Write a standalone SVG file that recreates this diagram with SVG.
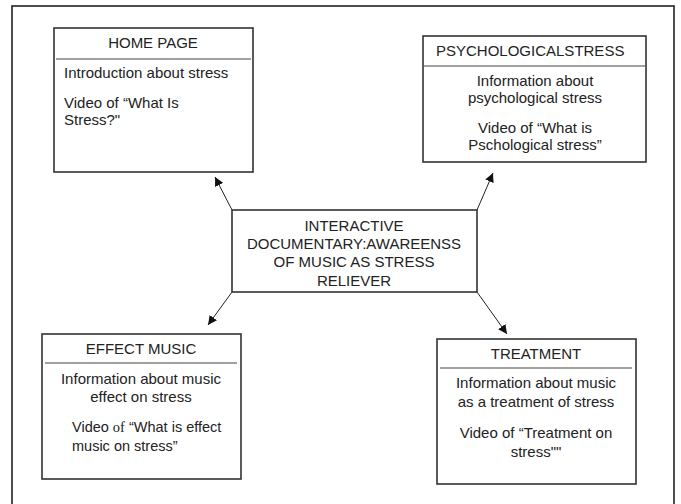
<svg xmlns="http://www.w3.org/2000/svg" width="681" height="504" viewBox="0 0 681 504">
<defs>
<style>
.box{fill:#fff;stroke:#333;stroke-width:1.6}
.div{stroke:#444;stroke-width:1}
.t{font-family:"Liberation Sans",Arial,sans-serif;font-size:15px;fill:#222}
.c{text-anchor:middle}
.con{stroke:#222;stroke-width:1;fill:none}
</style>
<marker id="ah" viewBox="0 0 10 10" refX="10" refY="5" markerWidth="9" markerHeight="9" markerUnits="userSpaceOnUse" orient="auto">
<path d="M0,0 L10,5 L0,10 z" fill="#111"/>
</marker>
</defs>
<rect width="681" height="504" fill="#fff"/>
<rect x="12" y="6" width="662" height="510" fill="none" stroke="#222" stroke-width="1.6"/>

<g id="connectors">
<line class="con" x1="232" y1="210" x2="215" y2="177" marker-end="url(#ah)"/>
<line class="con" x1="477" y1="210" x2="493" y2="173" marker-end="url(#ah)"/>
<line class="con" x1="232" y1="292" x2="208" y2="325" marker-end="url(#ah)"/>
<line class="con" x1="477" y1="292" x2="507" y2="334" marker-end="url(#ah)"/>
</g>

<g id="home">
<rect class="box" x="54" y="28" width="199" height="144"/>
<line class="div" x1="56" y1="59" x2="251" y2="59"/>
<text class="t c" x="153" y="48">HOME PAGE</text>
<text class="t" x="64" y="78">Introduction about stress</text>
<text class="t" x="64" y="108">Video of “What Is</text>
<text class="t" x="64" y="125">Stress?"</text>
</g>

<g id="psych">
<rect class="box" x="423" y="36" width="223" height="126"/>
<line class="div" x1="424" y1="66" x2="645" y2="66"/>
<text class="t" x="436" y="56">PSYCHOLOGICALSTRESS</text>
<text class="t c" x="535" y="86">Information about</text>
<text class="t c" x="535" y="103">psychological stress</text>
<text class="t c" x="535" y="133">Video of “What is</text>
<text class="t c" x="535" y="150">Pschological stress”</text>
</g>

<g id="center">
<rect class="box" x="232" y="210" width="245" height="82"/>
<text class="t c" x="354" y="231">INTERACTIVE</text>
<text class="t c" x="354" y="249">DOCUMENTARY:AWAREENSS</text>
<text class="t c" x="354" y="267">OF MUSIC AS STRESS</text>
<text class="t c" x="354" y="286">RELIEVER</text>
</g>

<g id="effect">
<rect class="box" x="42" y="334" width="199" height="145"/>
<line class="div" x1="45" y1="363" x2="237" y2="363"/>
<text class="t c" x="141" y="354">EFFECT MUSIC</text>
<text class="t c" x="141" y="384">Information about music</text>
<text class="t c" x="141" y="402">effect on stress</text>
<text class="t" x="72" y="432" style="font-size:14.5px">Video <tspan style="font-family:'Liberation Serif',serif">of</tspan> “What is effect</text>
<text class="t" x="72" y="451" style="font-size:14.5px">music on stress”</text>
</g>

<g id="treatment">
<rect class="box" x="437" y="339" width="199" height="145"/>
<line class="div" x1="440" y1="368" x2="632" y2="368"/>
<text class="t c" x="536" y="359">TREATMENT</text>
<text class="t c" x="536" y="388">Information about music</text>
<text class="t c" x="536" y="407">as a treatment of stress</text>
<text class="t c" x="536" y="438">Video of “Treatment on</text>
<text class="t c" x="536" y="457">stress""</text>
</g>
</svg>
